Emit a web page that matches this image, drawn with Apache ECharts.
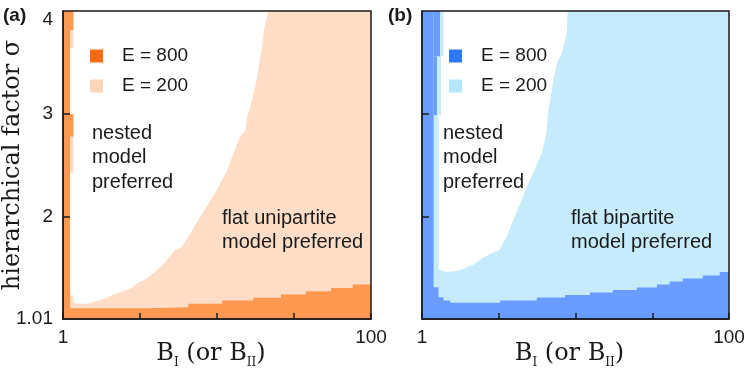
<!DOCTYPE html>
<html>
<head>
<meta charset="utf-8">
<script src="https://cdn.jsdelivr.net/npm/echarts@6/dist/echarts.min.js"></script>
<style>html,body{margin:0;padding:0;background:#fff}#main{width:747px;height:379px}</style>
</head>
<body>
<div id="main"></div>
<script>
// axes: B (log, 1..100) and hierarchical factor sigma (1.01..4)
var xTicks = [1, 3.1623, 10, 31.623, 100];
var xLabels = [1, 100];
var yLabels = [1.01, 2, 3, 4];
var yTicks = [2, 3];

// (a) unipartite: [B, sigma] boundary of the regions where the flat model wins
var uniLight = [[1,4],[1.11,4],[1.11,1.24],[1.17,1.24],[1.17,1.173],[1.23,1.158],[1.46,1.158],[1.69,1.19],[1.92,1.216],[2.12,1.248],[2.46,1.28],[2.79,1.31],[3.08,1.362],[3.41,1.391],[3.67,1.433],[3.96,1.465],[4.16,1.498],[4.4,1.53],[4.71,1.58],[5.34,1.68],[5.9,1.71],[6.51,1.81],[7.56,1.97],[8.79,2.13],[10.2,2.29],[11.6,2.45],[12.8,2.62],[14.1,2.78],[15.3,2.84],[15.7,2.97],[16.4,3.07],[17.2,3.2],[18.1,3.33],[18.8,3.49],[19.6,3.64],[20.2,3.82],[21.5,4],[100,4]];
var uniDark = [[1,4],[1.11,1.115],[3.49,1.125],[6.51,1.158],[10.8,1.19],[17.2,1.216],[26,1.248],[37.8,1.28],[55,1.31],[76,1.345],[100,1.345]];
// cells in the thin column next to B = 1: [B0, B1, sigma0, sigma1]
var uniCellsDark = [[1.11,1.17,3.815,4],[1.11,1.17,2.78,3.0]];
var uniCellsLight = [[1.11,1.17,3.64,3.815],[1.11,1.17,2.43,2.78]];

// (b) bipartite
var biLight = [[1,4],[1.285,4],[1.285,1.49],[1.45,1.465],[1.73,1.48],[1.96,1.51],[2.22,1.547],[2.45,1.595],[2.78,1.644],[3.2,1.68],[3.57,1.81],[3.94,1.97],[4.36,2.13],[4.81,2.29],[5.37,2.45],[6.03,2.62],[6.45,2.8],[6.66,3.04],[6.9,3.17],[7.18,3.33],[7.55,3.49],[8.13,3.59],[8.45,3.69],[8.77,3.78],[8.9,4],[100,4]];
var biDark = [[1,4],[1.19,1.319],[1.28,1.222],[1.38,1.19],[1.53,1.167],[3.23,1.19],[5.59,1.219],[8.55,1.243],[12.4,1.268],[17.5,1.292],[25.1,1.316],[33.9,1.345],[41.1,1.375],[50,1.404],[67.5,1.433],[87,1.467],[100,1.467]];
var biCellsDark = [[1.19,1.31,3.56,4],[1.19,1.25,2.99,3.56]];
var biCellsLight = [[1.285,1.38,3.56,4],[1.285,1.33,2.99,3.56]];

var chart = echarts.init(document.getElementById('main'));

var ink = '#1a1a1a';
var sans = 'Liberation Sans';
var serif = 'DejaVu Serif';

function xAxisFor(i) {
    return {
        type: 'log', logBase: 10, gridIndex: i, min: 1, max: 100, z: 10,
        axisLine: {show: true, lineStyle: {color: ink, width: 1.5}},
        axisTick: {show: true, inside: true, length: 6, customValues: xTicks, lineStyle: {color: ink, width: 1.5}},
        axisLabel: {customValues: xLabels, fontSize: 19, fontFamily: sans, color: ink, margin: 9},
        splitLine: {show: false},
        name: '{b|B}{s|I}{b| (or B}{s|II}{b|)}',
        nameLocation: 'middle', nameGap: 20, nameMoveOverlap: false,
        nameTextStyle: {
            padding: [0, 12, 0, 0],
            rich: {
                b: {fontFamily: serif, fontSize: 24, color: ink, lineHeight: 30},
                s: {fontFamily: serif, fontSize: 12, color: ink, lineHeight: 30, verticalAlign: 'bottom'}
            }
        }
    };
}

function yAxisFor(i) {
    return {
        type: 'value', gridIndex: i, min: 1.01, max: 4, z: 10,
        axisLine: {show: true, lineStyle: {color: ink, width: 1.5}},
        axisTick: {show: true, inside: true, length: 7, customValues: yTicks, lineStyle: {color: ink, width: 1.5}},
        axisLabel: {
            show: i === 0, customValues: yLabels, fontSize: 19, fontFamily: sans, color: ink, margin: 10,
            formatter: function (v) { return v === 4 ? '{t|4}' : String(v); },
            rich: {t: {fontSize: 19, fontFamily: sans, color: ink, padding: [17, 0, 0, 0]}}
        },
        splitLine: {show: false},
        name: i === 0 ? 'hierarchical factor σ' : '',
        nameLocation: 'middle', nameGap: 38, nameMoveOverlap: false,
        nameTextStyle: {fontFamily: serif, fontSize: 24, color: ink}
    };
}

function area(name, data, i, fill, legendColor, step, z) {
    return {
        name: name, type: 'line', xAxisIndex: i, yAxisIndex: i, data: data,
        step: step, symbol: 'none', silent: true, z: z,
        itemStyle: {color: legendColor},
        lineStyle: {width: 0},
        areaStyle: {color: fill, opacity: 1, origin: 'start'}
    };
}

function cells(data, i, fill, z) {
    return {
        type: 'custom', xAxisIndex: i, yAxisIndex: i, data: data, silent: true, z: z,
        encode: {x: [0, 1], y: [2, 3]},
        renderItem: function (params, api) {
            var p0 = api.coord([api.value(0), api.value(3)]);
            var p1 = api.coord([api.value(1), api.value(2)]);
            return {type: 'rect', shape: {x: p0[0], y: p0[1], width: p1[0] - p0[0], height: p1[1] - p0[1]},
                style: {fill: fill}};
        }
    };
}

var uniCol = {dark: '#ff9850', light: '#ffddc6', legDark: '#ff6a10', legLight: '#ffd5bc'};
var biCol = {dark: '#6a9cff', light: '#c5ebfc', legDark: '#2f78ff', legLight: '#b4e6fd'};

function legendFor(left, col) {
    return {
        left: left, top: 46, padding: 0, orient: 'vertical', selectedMode: false,
        itemWidth: 13, itemHeight: 13, itemGap: 10, icon: 'rect',
        textStyle: {fontSize: 19, fontFamily: sans, color: ink, lineHeight: 20, padding: [0, 0, 0, 14]},
        data: [{name: 'E = 800', itemStyle: {color: col.legDark}},
               {name: 'E = 200', itemStyle: {color: col.legLight}}]
    };
}

function note(x, y, text, lh) {
    return {type: 'text', left: x, top: y, z: 20,
        style: {text: text, font: '20px "Liberation Sans"', fill: ink, lineHeight: lh}};
}

option = {
    animation: false,
    backgroundColor: '#fff',
    title: [
        {text: '(a)', left: 3, top: 6, padding: 0, textStyle: {fontSize: 19, fontWeight: 'bold', fontFamily: sans, color: ink}},
        {text: '(b)', left: 388, top: 6, padding: 0, textStyle: {fontSize: 19, fontWeight: 'bold', fontFamily: sans, color: ink}}
    ],
    grid: [
        {left: 63, top: 11, width: 308, height: 308, outerBoundsMode: 'none', show: true, borderColor: ink, borderWidth: 1.5, backgroundColor: 'transparent', z: 10},
        {left: 422, top: 11, width: 307, height: 308, outerBoundsMode: 'none', show: true, borderColor: ink, borderWidth: 1.5, backgroundColor: 'transparent', z: 10}
    ],
    xAxis: [xAxisFor(0), xAxisFor(1)],
    yAxis: [yAxisFor(0), yAxisFor(1)],
    legend: [legendFor(90, uniCol), legendFor(449, biCol)],
    series: [
        area('E = 200', uniLight, 0, uniCol.light, uniCol.legLight, false, 1),
        cells(uniCellsLight, 0, uniCol.light, 2),
        area('E = 800', uniDark, 0, uniCol.dark, uniCol.legDark, 'end', 3),
        cells(uniCellsDark, 0, uniCol.dark, 4),
        area('E = 200', biLight, 1, biCol.light, biCol.legLight, false, 1),
        cells(biCellsLight, 1, biCol.light, 2),
        area('E = 800', biDark, 1, biCol.dark, biCol.legDark, 'end', 3),
        cells(biCellsDark, 1, biCol.dark, 4)
    ],
    graphic: [
        note(92, 121, 'nested\nmodel\npreferred', 24.5),
        note(222, 207, 'flat unipartite\nmodel preferred', 23.5),
        note(443, 121, 'nested\nmodel\npreferred', 24.5),
        note(571, 207, 'flat bipartite\nmodel preferred', 23.5)
    ]
};

chart.setOption(option, true);
</script>
</body>
</html>
